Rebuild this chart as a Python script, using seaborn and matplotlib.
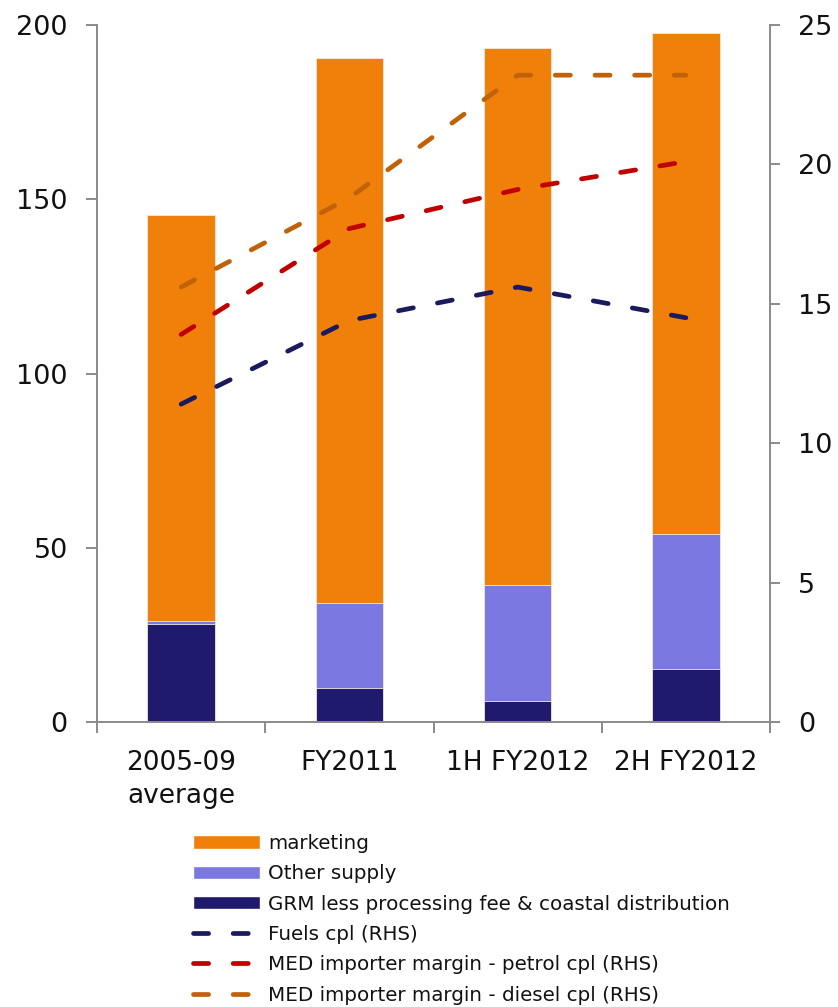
import matplotlib
matplotlib.use("Agg")
import matplotlib.pyplot as plt
import seaborn as sns
import pandas as pd
from matplotlib.patches import Patch
from matplotlib.lines import Line2D

categories = ["2005-09\naverage", "FY2011", "1H FY2012", "2H FY2012"]
grm = [28.1, 9.8, 6.0, 15.2]
other_supply = [1.0, 24.3, 33.3, 38.7]
marketing = [116.4, 156.4, 154.1, 143.8]
fuels_cpl = [11.4, 14.4, 15.6, 14.5]
petrol_cpl = [13.9, 17.7, 19.1, 20.1]
diesel_cpl = [15.6, 18.8, 23.2, 23.2]

c_mark = "#F0800A"
c_other = "#7B78E2"
c_grm = "#1F1A6B"
c_fuels = "#1A1A5E"
c_petrol = "#C00000"
c_diesel = "#C0620A"

sns.set_style("white")
plt.rcParams["font.family"] = ["DejaVu Sans"]

df = pd.DataFrame({
    "cat": categories,
    "grm": grm,
    "other": other_supply,
    "mark": marketing,
    "fuels": fuels_cpl,
    "petrol": petrol_cpl,
    "diesel": diesel_cpl,
})
df["lvl2"] = df["grm"] + df["other"]
df["lvl3"] = df["lvl2"] + df["mark"]

fig = plt.figure(figsize=(8.38, 10.07), dpi=100)
ax = fig.add_axes([97/838, 1-722/1007, (770-97)/838, (722-25)/1007])

bw = 0.40
for col, c in [("lvl3", c_mark), ("lvl2", c_other), ("grm", c_grm)]:
    sns.barplot(data=df, x="cat", y=col, color=c, width=bw, ax=ax, saturation=1,
                order=categories, linewidth=0.6, edgecolor="#F4E9E0")

ax.set_ylim(0, 200)
ax.set_yticks([0, 50, 100, 150, 200])
ax.set_xlim(-0.5, 3.5)
ax.set_xlabel("")
ax.set_ylabel("")

ax2 = ax.twinx()
lw = 3.4
dash = (0, (3.2, 5.2))
for col, c in [("fuels", c_fuels), ("petrol", c_petrol), ("diesel", c_diesel)]:
    sns.lineplot(data=df, x="cat", y=col, ax=ax2, color=c, linewidth=lw,
                 linestyle=dash, dash_capstyle="round", sort=False)
ax2.set_ylim(0, 25)
ax2.set_yticks([0, 5, 10, 15, 20, 25])
ax2.set_xlim(-0.5, 3.5)
ax2.set_ylabel("")
ax2.set_xlabel("")

spine_c = "#8A8A8A"
for a in (ax, ax2):
    for s in a.spines.values():
        s.set_color(spine_c)
        s.set_linewidth(1.4)
    a.spines["top"].set_visible(False)
ax.spines["right"].set_visible(False)
ax2.spines["left"].set_visible(False)
ax2.spines["bottom"].set_visible(False)

ax.tick_params(axis="y", which="major", direction="out", length=8, width=1.4,
               color=spine_c, labelsize=19.5, left=True, pad=13, labelcolor="#111111")
ax2.tick_params(axis="y", which="major", direction="out", length=7, width=1.4,
                color=spine_c, labelsize=19.5, right=True, pad=13, labelcolor="#111111")
ax.set_xticks(range(len(categories)))
ax.set_xticklabels(categories)
ax.tick_params(axis="x", which="major", length=0, labelsize=19, pad=20, labelcolor="#111111")
ax.set_xticks([-0.5, 0.5, 1.5, 2.5, 3.5], minor=True)
ax.tick_params(axis="x", which="minor", direction="out", length=8, width=1.4, color=spine_c, bottom=True)
for t in ax.get_xticklabels():
    t.set_linespacing(1.35)

handles = [
    Patch(facecolor=c_mark, label="marketing"),
    Patch(facecolor=c_other, label="Other supply"),
    Patch(facecolor=c_grm, label="GRM less processing fee & coastal distribution"),
    Line2D([], [], color=c_fuels, lw=lw, linestyle=dash, dash_capstyle="round", label="Fuels cpl (RHS)"),
    Line2D([], [], color=c_petrol, lw=lw, linestyle=dash, dash_capstyle="round", label="MED importer margin - petrol cpl (RHS)"),
    Line2D([], [], color=c_diesel, lw=lw, linestyle=dash, dash_capstyle="round", label="MED importer margin - diesel cpl (RHS)"),
]
fig.legend(handles=handles, loc="upper left", bbox_to_anchor=(185/838, 1-826/1007),
           frameon=False, fontsize=14.3, handlelength=3.4, handleheight=0.65,
           handletextpad=0.4, labelspacing=0.57, borderaxespad=0, labelcolor="#111111")

fig.savefig("out.png", dpi=100)
